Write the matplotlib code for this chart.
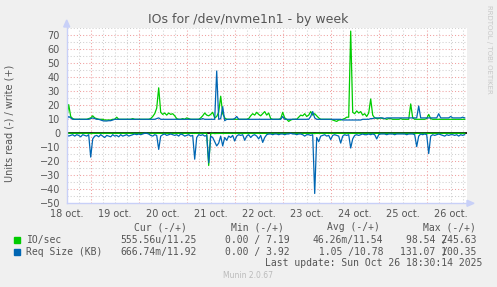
import matplotlib
matplotlib.use('Agg')
import matplotlib.pyplot as plt
from matplotlib.patches import Polygon, Rectangle
import numpy as np

# hours since 19 oct 00:00, one sample per hour (18 oct 12:00 -> 26 oct 19:00)
hours = np.arange(-12, 188)

day_labels = ['18 oct.', '19 oct.', '20 oct.', '21 oct.', '22 oct.',
              '23 oct.', '24 oct.', '25 oct.', '26 oct.']
day_label_pos = [-12, 12, 36, 60, 84, 108, 132, 156, 180]

# IO/sec write (+)
io_write = (
    [10, 20.5, 12, 10.5, 10, 10, 10, 10, 10, 10, 10, 10.5] +
    [11, 12.5, 11, 10.5, 10, 10, 10, 9.5, 9.5, 9.5, 9.5, 10, 10, 11.5, 10, 10, 10, 10, 10, 10, 10, 10.5, 10, 10] +
    [10, 10, 10, 10, 10, 10, 10.5, 12, 14, 18, 32.5, 15, 13.5, 14.5, 13, 14.5, 13.5, 14, 12.5, 10.5, 10, 10, 10.5, 10] +
    [11, 10.5, 10, 10, 10, 10, 10, 11, 12.5, 14.5, 13, 12.5, 13.5, 15, 11, 12, 15, 26.5, 14, 11, 10, 10, 10, 10] +
    [10, 10, 10, 10, 10, 10, 10, 10.5, 12.5, 14, 13, 15, 13.5, 12.5, 14, 15.5, 13, 14.5, 10.5, 10, 10, 10, 10, 10.5] +
    [15, 11, 10, 8.5, 9.5, 10, 10, 10, 11.5, 13, 12.5, 14, 12, 13, 15.5, 13, 14, 12.5, 11, 10, 10, 10, 10, 10] +
    [10, 9.5, 9, 8.5, 9.5, 9.5, 10, 10.5, 11.5, 11.5, 73, 15, 14, 16, 14.5, 15.5, 13, 14, 12, 14.5, 24.5, 13, 11, 10.5] +
    [10.5, 11, 10.5, 10.5, 10, 10.5, 10.5, 10, 10, 10, 10, 10.5, 10, 10, 10, 10, 21, 11, 10, 10, 10, 10, 10, 10] +
    [10.5, 13.5, 10.5, 10, 10, 10, 10, 10, 10, 10, 10, 10, 10, 10, 10, 10, 10, 10, 10, 10]
)

# IO/sec read (-)
io_read = (
    [0.1, 0, 0, 0, 0, 0, 0, 0, 0, 0, 0, 0] +
    [0.2, 0.1, 0, 0, 0, 0, 0, 0, 0, 0, 0, 0, 0, 0, 0, 0, 0, 0, 0, 0, 0, 0, 0, 0] +
    [0, 0, 0, 0, 0, 0, 0, 0, 0, 0, 0.1, 0, 0, 0, 0, 0, 0, 0, 0, 0, 0, 0, 0, 0] +
    [0, 0, 0, 0, 0.1, 0, 0, 0, 0, 0, 0, 23, 0, 0, 0.2, 0.1, 0.1, 0, 0.1, 0, 0, 0, 0, 0] +
    [0, 0, 0, 0, 0, 0, 0, 0, 0, 0, 0, 0, 0, 0, 0, 0, 0, 0, 0, 0, 0, 0, 0, 0] +
    [0, 0, 0, 0, 0, 0, 0, 0, 0, 0, 0, 0, 0, 0, 0, 0, 0.2, 0, 0, 0, 0, 0, 0, 0] +
    [0, 0, 0, 0, 0, 0, 0, 0, 0, 0, 0.1, 0, 0, 0, 0, 0, 0, 0, 0, 0, 0, 0, 0, 0] +
    [0, 0, 0, 0, 0, 0, 0, 0, 0, 0, 0, 0, 0, 0, 0, 0, 0, 0, 0, 0.1, 0, 0, 0, 0] +
    [0, 0.1, 0, 0, 0, 0, 0, 0, 0, 0, 0, 0, 0, 0, 0, 0, 0, 0, 0, 0]
)

# Req Size (KB) write (+)
req_write = (
    [10, 12, 11, 10, 10, 10, 10, 10, 10, 10, 10, 10] +
    [10.5, 11, 10.5, 10, 10, 9.5, 9, 8.8, 8.8, 9, 9, 9.5, 10, 10, 10, 10, 10, 10, 10, 10, 10, 10, 10, 10] +
    [10, 10, 10, 10, 10, 10, 10, 10, 10, 10.5, 11, 10, 10, 10, 10, 10, 10, 10, 10, 10, 10, 10, 10, 10] +
    [10, 10, 10, 10, 10, 10, 10, 10, 10.5, 10, 10, 10, 10, 10, 10, 44.5, 10, 10.5, 19, 9, 10, 10, 10, 10] +
    [10.5, 12, 10, 10, 10, 10, 10, 10, 10, 10, 10, 10, 10, 10, 10, 10, 10, 10, 10, 10, 10, 10, 10, 10] +
    [12, 10, 10, 10, 10, 10, 10, 10, 10, 10, 10, 10, 10, 10, 12, 15.5, 11, 10, 10, 10, 10, 10, 10, 10] +
    [10, 10, 10, 10, 10, 10, 9.5, 9.5, 9.5, 9.5, 9.5, 9.5, 9.5, 9.5, 9.5, 9.5, 10, 10, 10, 10, 10.5, 10.5, 11, 11] +
    [11, 11, 11, 10.5, 11, 11, 11, 11, 11, 11, 11, 11, 11, 11, 11, 11, 11, 11, 11, 11, 19.5, 11, 11, 11] +
    [11, 11, 11, 11, 11, 11, 14, 11, 11, 11, 11, 11, 12, 11, 11, 11, 11, 11, 11.5, 11]
)

# Req Size (KB) read (-)
req_read = (
    [1, 2, 1.5, 1, 2, 1, 1.5, 2.5, 1, 1.5, 2, 1] +
    [17, 4, 2, 1.5, 2.5, 1, 2, 3, 1.5, 2, 2.5, 1, 2, 1.5, 2.5, 1, 2, 1.5, 1, 2, 1.5, 1, 0.5, 1] +
    [0.5, 1, 0.5, 0, 0, 0.5, 1.5, 2, 1, 1.5, 11.5, 2, 1, 0.5, 1.5, 1, 0.5, 1, 1.5, 1, 2, 0.5, 1, 2] +
    [1.5, 1, 2, 1.5, 18.5, 3, 1, 1.5, 1, 2, 1.5, 21, 2, 3, 6, 9, 7, 2, 9, 3, 5, 2, 3, 1.5] +
    [5.5, 2, 1, 1.5, 1, 5, 2, 1, 3, 1.5, 1, 2, 4, 1.5, 6.5, 3, 1, 0.5, 0.5, 1, 0.5, 0.5, 1, 0.5] +
    [0.5, 1, 0.5, 0.5, 0, 0.5, 0.5, 1, 0.5, 0.5, 1, 2, 1, 1, 1.5, 1, 43, 3, 6, 2, 1.5, 1, 2, 1.5] +
    [4.5, 1.5, 1, 1.5, 2, 7, 2, 1, 1.5, 1, 10.5, 4, 1.5, 1, 1.5, 1, 0.5, 1, 1, 0.5, 1, 0.5, 1, 4] +
    [1, 0.5, 0.5, 0.5, 1, 0.5, 0.5, 0.5, 1, 0.5, 0.5, 0.5, 0.5, 0.5, 1, 0.5, 0.5, 0.5, 1, 9.5, 2, 0.5, 1, 0.5] +
    [1, 14.5, 2, 1, 1.5, 1, 0.5, 1, 1.5, 2, 1, 1.5, 1, 1, 1.5, 1, 2, 1, 1.5, 1]
)

W, H = 497, 287
GREEN = '#00CC00'
BLUE = '#0066B3'
TXT = '#555555'
AXC = '#C8D0F8'

fig = plt.figure(figsize=(W / 100, H / 100), dpi=100, facecolor='#F0F0F0')

def fx(x):
    return x / W

def fy(y):
    return 1 - y / H

ax = fig.add_axes([fx(66.7), fy(203.3), 400 / W, 175 / H])
ax.set_facecolor('white')
ax.set_xlim(-12, 188)
ax.set_ylim(-50, 75)
for s in ax.spines.values():
    s.set_visible(False)

# grid: red at midnight / every 10, grey every 6h / every 5
for h in range(-6, 188, 6):
    c = '#F0A0A0' if h % 24 == 0 else '#D0D0D0'
    ax.axvline(h, color=c, lw=0.75, ls=(0, (1, 2)), zorder=1)
for v in range(-45, 76, 5):
    c = '#F0A0A0' if v % 10 == 0 else '#D0D0D0'
    ax.axhline(v, color=c, lw=0.75, ls=(0, (1, 2)), zorder=1)

ax.axhline(0, color='black', lw=1.2, zorder=3)

ax.plot(hours, -np.array(io_read), color=GREEN, lw=0.9, zorder=4)
ax.plot(hours, io_write, color=GREEN, lw=0.9, zorder=4)
ax.plot(hours, -np.array(req_read), color=BLUE, lw=0.9, zorder=5)
ax.plot(hours, req_write, color=BLUE, lw=0.9, zorder=5)

ax.set_yticks(range(-50, 71, 10))
ax.set_xticks(day_label_pos)
ax.set_xticklabels(day_labels)
ax.tick_params(length=0, labelsize=7, labelcolor=TXT)
ax.tick_params(axis='y', pad=4.8)
ax.tick_params(axis='x', pad=4)

# axes and arrows
fig.add_artist(plt.Line2D([fx(66.7), fx(66.7)], [fy(203.3), fy(26)], color=AXC, lw=1))
fig.add_artist(plt.Line2D([fx(66.7), fx(468)], [fy(203.3), fy(203.3)], color=AXC, lw=1))
fig.add_artist(Polygon([[fx(66.7), fy(20)], [fx(63.7), fy(27)], [fx(69.7), fy(27)]],
                       closed=True, color=AXC, transform=fig.transFigure))
fig.add_artist(Polygon([[fx(474), fy(203.3)], [fx(467), fy(200.3)], [fx(467), fy(206.3)]],
                       closed=True, color=AXC, transform=fig.transFigure))

fig.text(fx(248), fy(19), 'IOs for /dev/nvme1n1 - by week', ha='center', va='center',
         fontsize=9, color=TXT)
fig.text(fx(10), fy(123), 'Units read (-) / write (+)', rotation=90, ha='center', va='center',
         fontsize=7, color=TXT)
fig.text(fx(489), fy(5), 'RRDTOOL / TOBI OETIKER', rotation=270, ha='center', va='top',
         fontsize=5, color='#C8C8C8')

# legend
mono = dict(family='DejaVu Sans Mono', fontsize=7, color=TXT, va='center')
for x, t in zip([134.3, 230.7, 326.7, 422.7], ['Cur (-/+)', 'Min (-/+)', 'Avg (-/+)', 'Max (-/+)']):
    fig.text(fx(x), fy(227.3), t, ha='left', **mono)

rows = [
    (239.7, GREEN, 'IO/sec', ['555.56u/11.25', '0.00 / 7.19', '46.26m/11.54', '98.54 245.63']),
    (251.7, BLUE, 'Req Size (KB)', ['666.74m/11.92', '0.00 / 3.92', ' 1.05 /10.78', '131.07 100.35']),
]
for y, col, name, vals in rows:
    fig.add_artist(Rectangle((fx(14), fy(y + 3)), 6 / W, 6 / H, color=col,
                             transform=fig.transFigure))
    fig.text(fx(26.5), fy(y), name, ha='left', **mono)
    for x, t in zip([196.7, 290, 383.3, 476.7], vals):
        fig.text(fx(x), fy(y), t, ha='right', **mono)
    # the slash of the Max column is printed over the first digit, as in the original
    fig.text(fx(444.3), fy(y), '/', ha='center', **mono)

fig.text(fx(482.3), fy(263.3), 'Last update: Sun Oct 26 18:30:14 2025', ha='right', **mono)
fig.text(fx(248), fy(276), 'Munin 2.0.67', ha='center', va='center', fontsize=5.5, color='#BBBBBB')

fig.savefig('out.png', dpi=100, facecolor=fig.get_facecolor())
